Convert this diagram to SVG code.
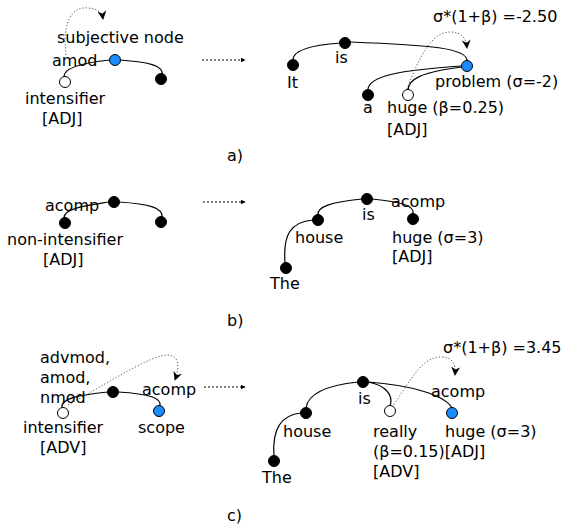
<svg xmlns="http://www.w3.org/2000/svg" width="563" height="527" viewBox="0 0 563 527">
<style>
text{font-family:"DejaVu Sans",sans-serif;font-size:16px;fill:#000}
.e{fill:none;stroke:#000;stroke-width:1.2}
.d{fill:none;stroke:#555;stroke-width:1;stroke-dasharray:1.2 2}
.a{fill:none;stroke:#000;stroke-width:1;stroke-dasharray:2 2}
.k{fill:#000;stroke:#000}
.b{fill:#1a8cff;stroke:#000}
.w{fill:#fff;stroke:#000}
</style>
<defs>
<marker id="st" viewBox="0 0 10 10" refX="9" refY="5" markerWidth="9" markerHeight="9" orient="auto" markerUnits="userSpaceOnUse"><path d="M0,0 L10,5 L0,10 L3,5 z" fill="#000"/></marker>
<marker id="sm" viewBox="0 0 10 10" refX="9" refY="5" markerWidth="5" markerHeight="5" orient="auto" markerUnits="userSpaceOnUse"><path d="M0,0 L10,5 L0,10 z" fill="#000"/></marker>
</defs>
<g id="connectors">
<!-- a left -->
<path class="e" d="M64 77 C63 66 90 62 110 60"/>
<path class="e" d="M120 60 C150 62 164 66 162 75"/>
<path class="d" d="M66 55 C62 22 72 6 88 8 C98 9 102 12 103 19" marker-end="url(#st)"/>
<path class="a" d="M202 60 L245 60" marker-end="url(#sm)"/>
<!-- a right -->
<path class="e" d="M341 43 C310 45 293 50 293 60"/>
<path class="e" d="M350 42 C430 45 468 48 467 61"/>
<path class="e" d="M462 66 C400 70 368 76 368 90"/>
<path class="e" d="M462 67 C420 72 408 80 408 90"/>
<path class="d" d="M407 89 C420 55 432 32 450 32 C462 32 466 38 467 48" marker-end="url(#st)"/>
<!-- b left -->
<path class="e" d="M64 218 C63 208 90 205 109 202"/>
<path class="e" d="M119 202 C150 204 163 208 162 217"/>
<path class="a" d="M203 202 L245 202" marker-end="url(#sm)"/>
<!-- b right -->
<path class="e" d="M362 199 C330 202 317 207 318 215"/>
<path class="e" d="M313 220 C290 222 283 235 285 263"/>
<path class="e" d="M372 199 C400 202 415 205 413 214"/>
<!-- c left -->
<path class="e" d="M62 408 C60 398 80 395 108 392"/>
<path class="e" d="M118 392 C150 394 162 398 160 406"/>
<path class="d" d="M68 405 C110 382 150 355 168 355 C179 356 180 366 175 380" marker-end="url(#st)"/>
<path class="a" d="M204 387 L245 387" marker-end="url(#sm)"/>
<!-- c right -->
<path class="e" d="M358 382 C330 385 308 392 306 408"/>
<path class="e" d="M301 413 C280 415 272 430 274 456"/>
<path class="e" d="M368 382 C385 385 394 395 390 406"/>
<path class="e" d="M368 382 C410 385 445 395 452 408"/>
<path class="d" d="M392 407 C405 390 420 357 440 357 C452 357 456 363 455 375" marker-end="url(#st)"/>
</g>
<g id="a-left">
<circle class="w" cx="65" cy="82" r="5.5"/>
<circle class="b" cx="115" cy="60" r="5.5"/>
<circle class="k" cx="161" cy="79" r="5.5"/>
<text x="57" y="43">subjective node</text>
<text x="52" y="66">amod</text>
<text x="25" y="104">intensifier</text>
<text x="42" y="124">[ADJ]</text>
</g>
<g id="a-right">
<circle class="k" cx="345" cy="43" r="5.5"/>
<circle class="k" cx="293" cy="65" r="5.5"/>
<circle class="b" cx="467" cy="66" r="5.5"/>
<circle class="k" cx="368" cy="95" r="5.5"/>
<circle class="w" cx="408" cy="95" r="5.5"/>
<text x="433" y="22">σ*(1+β) =-2.50</text>
<text x="335" y="63">is</text>
<text x="287" y="88">It</text>
<text x="435" y="87">problem (σ=-2)</text>
<text x="363" y="113">a</text>
<text x="387" y="113">huge (β=0.25)</text>
<text x="387" y="135">[ADJ]</text>
</g>
<text x="227" y="161">a)</text>
<g id="b-left">
<circle class="k" cx="65" cy="223" r="5.5"/>
<circle class="k" cx="114" cy="202" r="5.5"/>
<circle class="k" cx="161" cy="222" r="5.5"/>
<text x="45" y="211">acomp</text>
<text x="7" y="245">non-intensifier</text>
<text x="43" y="265">[ADJ]</text>
</g>
<g id="b-right">
<circle class="k" cx="367" cy="199" r="5.5"/>
<circle class="k" cx="318" cy="220" r="5.5"/>
<circle class="k" cx="413" cy="219" r="5.5"/>
<circle class="k" cx="286" cy="268" r="5.5"/>
<text x="391" y="207">acomp</text>
<text x="362" y="220">is</text>
<text x="295" y="243">house</text>
<text x="392" y="243">huge (σ=3)</text>
<text x="392" y="262">[ADJ]</text>
<text x="270" y="289">The</text>
</g>
<text x="227" y="326">b)</text>
<g id="c-left">
<circle class="w" cx="63" cy="413" r="5.5"/>
<circle class="k" cx="113" cy="392" r="5.5"/>
<circle class="b" cx="159" cy="411" r="5.5"/>
<text x="40" y="363">advmod,</text>
<text x="40" y="383">amod,</text>
<text x="40" y="403">nmod</text>
<text x="142" y="395">acomp</text>
<text x="23" y="433">intensifier</text>
<text x="40" y="453">[ADV]</text>
<text x="138" y="433">scope</text>
</g>
<g id="c-right">
<circle class="k" cx="363" cy="382" r="5.5"/>
<circle class="k" cx="306" cy="413" r="5.5"/>
<circle class="k" cx="274" cy="461" r="5.5"/>
<circle class="w" cx="390" cy="411" r="5.5"/>
<circle class="b" cx="452" cy="413" r="5.5"/>
<text x="443" y="353">σ*(1+β) =3.45</text>
<text x="358" y="404">is</text>
<text x="431" y="397">acomp</text>
<text x="283" y="437">house</text>
<text x="373" y="437">really</text>
<text x="445" y="437">huge (σ=3)</text>
<text x="373" y="457">(β=0.15)[ADJ]</text>
<text x="373" y="477">[ADV]</text>
<text x="262" y="483">The</text>
</g>
<text x="227" y="521">c)</text>
</svg>
